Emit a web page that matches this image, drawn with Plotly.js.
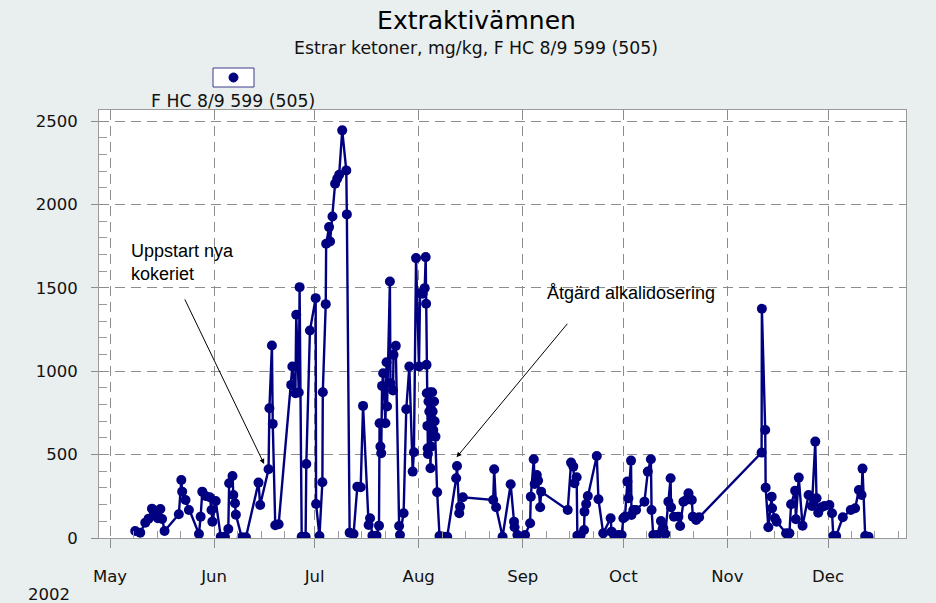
<!DOCTYPE html>
<html>
<head>
<meta charset="utf-8">
<script src="https://cdn.plot.ly/plotly-3.0.1.min.js"></script>
<style>
  html, body { margin: 0; padding: 0; background: #e9eeee; }
  #chart { width: 936px; height: 603px; }
</style>
</head>
<body>
<div id="chart"></div>
<script>
// ---- data ----
const chartTitle = 'Extraktivämnen';
const chartSubtitle = 'Estrar ketoner, mg/kg, F HC 8/9 599 (505)';
const seriesName = 'F HC 8/9 599 (505)';
const yearLabel = '2002';

const sampleTimes = [
  '2002-05-08 12:00','2002-05-10 00:00','2002-05-11 12:00','2002-05-12 12:00','2002-05-13 12:00',
  '2002-05-14 12:00','2002-05-15 06:00','2002-05-16 00:00','2002-05-16 12:00','2002-05-17 06:00',
  '2002-05-21 12:00','2002-05-22 06:00','2002-05-22 12:00','2002-05-23 12:00','2002-05-24 12:00',
  '2002-05-27 12:00','2002-05-28 00:00','2002-05-28 12:00','2002-05-29 12:00','2002-05-30 18:00',
  '2002-05-31 06:00','2002-05-31 12:00','2002-06-01 12:00','2002-06-03 00:00','2002-06-04 06:00',
  '2002-06-05 06:00','2002-06-05 12:00','2002-06-06 12:00','2002-06-06 18:00','2002-06-07 06:00',
  '2002-06-07 12:00','2002-06-09 06:00','2002-06-10 12:00','2002-06-14 06:00','2002-06-14 18:00',
  '2002-06-17 06:00','2002-06-17 12:00','2002-06-18 06:00','2002-06-18 12:00','2002-06-19 06:00',
  '2002-06-20 06:00','2002-06-24 00:00','2002-06-24 08:00','2002-06-25 06:00','2002-06-25 12:00',
  '2002-06-26 06:00','2002-06-26 12:00','2002-06-27 03:00','2002-06-28 07:00','2002-06-28 12:00',
  '2002-06-29 14:00','2002-07-01 07:00','2002-07-01 10:00','2002-07-02 10:00','2002-07-03 07:00',
  '2002-07-03 10:00','2002-07-04 07:00','2002-07-04 10:00','2002-07-05 07:00','2002-07-05 14:00',
  '2002-07-06 07:00','2002-07-07 02:00','2002-07-07 17:00','2002-07-08 07:00','2002-07-09 05:00',
  '2002-07-10 10:00','2002-07-10 14:00','2002-07-11 10:00','2002-07-12 14:00','2002-07-13 17:00',
  '2002-07-14 17:00','2002-07-15 10:00','2002-07-17 02:00','2002-07-17 12:00','2002-07-18 05:00',
  '2002-07-19 10:00','2002-07-20 04:00','2002-07-20 08:00','2002-07-20 14:00','2002-07-20 20:00',
  '2002-07-21 02:00','2002-07-21 10:00','2002-07-22 02:00','2002-07-22 10:00','2002-07-22 14:00',
  '2002-07-23 10:00','2002-07-23 14:00','2002-07-24 08:00','2002-07-24 12:00','2002-07-25 04:00',
  '2002-07-26 04:00','2002-07-26 10:00','2002-07-27 12:00','2002-07-28 07:00','2002-07-29 05:00',
  '2002-07-30 05:00','2002-07-30 14:00','2002-07-31 05:00','2002-08-01 02:00','2002-08-01 10:00',
  '2002-08-02 05:00','2002-08-02 19:00','2002-08-03 02:00','2002-08-03 05:00','2002-08-03 08:00',
  '2002-08-03 10:00','2002-08-03 14:00','2002-08-03 16:00','2002-08-03 18:00','2002-08-03 22:00',
  '2002-08-04 04:00','2002-08-04 08:00','2002-08-04 12:00','2002-08-04 16:00','2002-08-05 00:00',
  '2002-08-05 04:00','2002-08-05 08:00','2002-08-05 14:00','2002-08-05 18:00','2002-08-06 00:00',
  '2002-08-06 12:00','2002-08-07 05:00','2002-08-08 07:00','2002-08-09 12:00','2002-08-12 04:00',
  '2002-08-12 10:00','2002-08-13 02:00','2002-08-13 08:00','2002-08-14 04:00','2002-08-23 05:00',
  '2002-08-23 12:00','2002-08-24 02:00','2002-08-26 00:00','2002-08-28 10:00','2002-08-29 10:00',
  '2002-08-29 14:00','2002-08-30 10:00','2002-09-01 17:00','2002-09-03 05:00','2002-09-03 10:00',
  '2002-09-04 07:00','2002-09-04 14:00','2002-09-05 05:00','2002-09-05 14:00','2002-09-06 05:00',
  '2002-09-06 12:00','2002-09-14 10:00','2002-09-15 10:00','2002-09-16 02:00','2002-09-16 10:00',
  '2002-09-17 02:00','2002-09-17 07:00','2002-09-18 07:00','2002-09-19 07:00','2002-09-19 10:00',
  '2002-09-19 22:00','2002-09-20 10:00','2002-09-23 02:00','2002-09-23 14:00','2002-09-25 00:00',
  '2002-09-27 05:00','2002-09-27 12:00','2002-09-28 05:00','2002-09-29 12:00','2002-09-30 12:00',
  '2002-10-01 00:00','2002-10-01 12:00','2002-10-02 05:00','2002-10-02 12:00','2002-10-03 07:00',
  '2002-10-03 10:00','2002-10-04 00:00','2002-10-04 19:00','2002-10-07 07:00','2002-10-08 07:00',
  '2002-10-09 05:00','2002-10-09 10:00','2002-10-09 22:00','2002-10-11 02:00','2002-10-12 05:00',
  '2002-10-12 22:00','2002-10-13 12:00','2002-10-14 10:00','2002-10-15 02:00','2002-10-15 05:00',
  '2002-10-16 02:00','2002-10-17 10:00','2002-10-17 22:00','2002-10-18 22:00','2002-10-19 17:00',
  '2002-10-20 10:00','2002-10-21 10:00','2002-10-21 17:00','2002-10-22 17:00','2002-10-23 14:00',
  '2002-11-11 05:00','2002-11-11 07:00','2002-11-12 07:00','2002-11-12 10:00','2002-11-13 05:00',
  '2002-11-14 05:00','2002-11-14 08:00','2002-11-15 05:00','2002-11-15 17:00','2002-11-18 12:00',
  '2002-11-19 12:00','2002-11-20 00:00','2002-11-21 05:00','2002-11-21 10:00','2002-11-22 07:00',
  '2002-11-23 10:00','2002-11-25 05:00','2002-11-26 05:00','2002-11-27 05:00','2002-11-27 14:00',
  '2002-11-28 02:00','2002-11-29 02:00','2002-11-29 22:00','2002-12-01 10:00','2002-12-02 05:00',
  '2002-12-02 14:00','2002-12-03 10:00','2002-12-05 10:00','2002-12-07 19:00','2002-12-09 02:00',
  '2002-12-10 05:00','2002-12-11 00:00','2002-12-11 07:00','2002-12-12 02:00','2002-12-13 02:00'
];

const esterKetone = [
  42, 32, 92, 116, 176,
  140, 118, 174, 114, 42,
  142, 348, 278, 228, 168,
  24, 128, 278, 252, 244,
  168, 98, 222, 8, 8,
  54, 328, 372, 258, 208,
  140, 4, 4, 332, 198,
  412, 778, 1154, 684, 76,
  82, 918, 1028, 868, 1338,
  872, 1504, 8, 8, 444,
  1244, 1438, 204, 12, 334,
  874, 1402, 1764, 1864, 1778,
  1928, 2124, 2154, 2178, 2444,
  2204, 1940, 32, 24, 308,
  304, 792, 78, 118, 14,
  14, 74, 688, 548, 508,
  912, 988, 688, 1054, 788,
  1538, 928, 884, 1098, 1152,
  72, 18, 148, 772, 1028,
  398, 514, 1678, 1028, 1468,
  1464, 1498, 1684, 1404, 1038,
  868, 672, 538, 504, 818,
  758, 874, 418, 548, 874,
  758, 648, 818, 700, 608,
  274, 12, 8, 8, 358,
  432, 148, 188, 244, 228,
  412, 184, 8, 322, 98,
  64, 18, 18, 88, 248,
  472, 324, 378, 344, 184,
  278, 168, 452, 428, 328,
  364, 14, 18, 48, 158,
  204, 252, 492, 232, 28,
  118, 38, 18, 18, 18,
  118, 128, 338, 238, 464,
  138, 168, 168, 218, 398,
  472, 168, 18, 18, 102,
  58, 24, 218, 358, 184,
  128, 128, 72, 218, 228,
  268, 228, 128, 108, 124,
  512, 1374, 648, 302, 64,
  248, 178, 118, 98, 28,
  28, 202, 284, 112, 362,
  74, 258, 192, 578, 238,
  152, 184, 192, 198, 148,
  12, 12, 124, 168, 178,
  288, 258, 416, 12, 8
];

const monthTicks  = ['2002-05-01','2002-06-01','2002-07-01','2002-08-01','2002-09-01','2002-10-01','2002-11-01','2002-12-01'];
const monthLabels = ['May','Jun','Jul','Aug','Sep','Oct','Nov','Dec'];
const yTicks = [0, 500, 1000, 1500, 2000, 2500];
const yTickLabels = ['0', '500', '1000', '1500', '2000', '2500'];

// annotations (text and the sample each arrow points to)
const noteStart = 'Uppstart nya<br>kokeriet';
const noteStartAt = {x: '2002-06-15 22:00', y: 444};
const noteAlkali = 'Åtgärd alkalidosering';
const noteAlkaliAt = {x: '2002-08-12 07:00', y: 484};

// ---- styling / layout ----
const NAVY = '#000080';
const GRID = '#8c8c8c';
const FONT = 'DejaVu Sans, Verdana, sans-serif';
const NOTEFONT = 'Liberation Sans, Arial, sans-serif';

// minor ticks on the 8th, 15th and 22nd of each month
const minorX = [];
['04','05','06','07','08','09','10','11','12'].forEach(m => {
  ['08','15','22'].forEach(d => minorX.push('2002-' + m + '-' + d));
});
const minorY = [];
for (let v = 100; v < 2600; v += 100) if (v % 500) minorY.push(v);

const trace = {
  type: 'scatter',
  mode: 'lines+markers',
  name: seriesName,
  x: sampleTimes,
  y: esterKetone,
  line: {color: NAVY, width: 2.4},
  marker: {color: NAVY, size: 10, symbol: 'circle'},
  showlegend: false
};

const W = 936, H = 603, L = 99, R = 906, T = 110, B = 538;
const px = v => (v - L) / (R - L);
const py = v => (B - v) / (B - T);

const layout = {
  width: W, height: H,
  margin: {l: L, r: W - R, t: T, b: H - B, pad: 0},
  paper_bgcolor: '#e9eeee',
  plot_bgcolor: '#ffffff',
  font: {family: FONT, size: 16, color: '#111'},
  title: {
    text: chartTitle,
    font: {family: FONT, size: 25, color: '#000'},
    x: 476.5 / W, xanchor: 'center', xref: 'container',
    y: 1 - 20 / H, yanchor: 'middle', yref: 'container'
  },
  xaxis: {
    type: 'date',
    range: ['2002-04-27 17:00', '2002-12-24 06:00'],
    tickmode: 'array', tickvals: monthTicks, ticktext: monthLabels,
    ticks: 'outside', ticklen: 9, tickcolor: GRID, tickwidth: 1,
    ticklabelstandoff: 14,
    tickfont: {family: FONT, size: 16.5, color: '#111'},
    showgrid: true, gridcolor: GRID, gridwidth: 1, griddash: '10px,6px',
    showline: true, linecolor: '#9a9a9a', linewidth: 1, mirror: true,
    zeroline: false,
    minor: {tickmode: 'array', tickvals: minorX, ticks: 'inside', ticklen: 7, tickcolor: '#9a9a9a', showgrid: false}
  },
  yaxis: {
    range: [0, 2566],
    tickmode: 'array', tickvals: yTicks, ticktext: yTickLabels,
    ticks: 'outside', ticklen: 7, tickcolor: GRID, tickwidth: 1,
    ticklabelstandoff: 10,
    tickfont: {family: FONT, size: 16.5, color: '#111'},
    showgrid: true, gridcolor: GRID, gridwidth: 1, griddash: '10px,6px',
    showline: true, linecolor: '#9a9a9a', linewidth: 1, mirror: true,
    zeroline: false,
    minor: {tickmode: 'array', tickvals: minorY, ticks: 'inside', ticklen: 8, tickcolor: '#9a9a9a', showgrid: false}
  },
  shapes: [
    {type: 'rect', xref: 'paper', yref: 'paper',
     x0: px(213), x1: px(254), y0: py(87), y1: py(68),
     line: {color: '#3a3a8a', width: 1}, fillcolor: '#ffffff', layer: 'above'},
    {type: 'circle', xref: 'paper', yref: 'paper',
     x0: px(229), x1: px(238), y0: py(82), y1: py(73),
     line: {color: NAVY, width: 1}, fillcolor: NAVY, layer: 'above'}
  ],
  annotations: [
    {text: chartSubtitle, xref: 'paper', yref: 'paper', x: px(476), y: py(48),
     xanchor: 'center', yanchor: 'middle', showarrow: false,
     font: {family: FONT, size: 17.3, color: '#111'}},
    {text: seriesName, xref: 'paper', yref: 'paper', x: px(233), y: py(101),
     xanchor: 'center', yanchor: 'middle', showarrow: false,
     font: {family: FONT, size: 17.3, color: '#111'}},
    {text: yearLabel, xref: 'paper', yref: 'paper', x: px(26), y: py(594),
     xanchor: 'left', yanchor: 'middle', showarrow: false,
     font: {family: FONT, size: 16.5, color: '#111'}},
    {text: noteStart, xref: 'paper', yref: 'paper', x: px(129), y: py(239),
     xanchor: 'left', yanchor: 'top', align: 'left', showarrow: false,
     font: {family: NOTEFONT, size: 18, color: '#000'}},
    {text: noteAlkali, xref: 'paper', yref: 'paper', x: px(545), y: py(281),
     xanchor: 'left', yanchor: 'top', align: 'left', showarrow: false,
     font: {family: NOTEFONT, size: 18, color: '#000'}},
    {text: '', x: noteStartAt.x, y: noteStartAt.y, xref: 'x', yref: 'y',
     showarrow: true, arrowhead: 2, arrowsize: 1, arrowwidth: 1, arrowcolor: '#000',
     ax: -80, ay: -166},
    {text: '', x: noteAlkaliAt.x, y: noteAlkaliAt.y, xref: 'x', yref: 'y',
     showarrow: true, arrowhead: 2, arrowsize: 1, arrowwidth: 1, arrowcolor: '#000',
     ax: 112, ay: -135}
  ]
};

Plotly.newPlot('chart', [trace], layout, {staticPlot: true, displayModeBar: false});
</script>
</body>
</html>
